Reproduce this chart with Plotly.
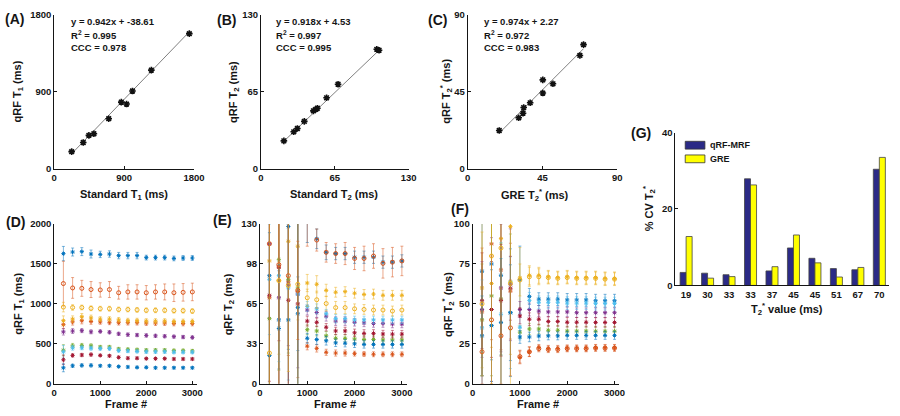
import plotly.graph_objects as go

W, H = 900, 416
FONT = "Liberation Sans, Arial, sans-serif"
INK = "#151515"

# ---------------- data ----------------
# (A) T1 agreement
A_STD = [225, 374, 447, 511, 702, 864, 932, 1008, 1251, 1740]
A_QRF = [198, 305, 389, 408, 584, 778, 755, 908, 1152, 1579]
A_FIT = [0.942, -38.61]
A_STATS = ["y = 0.942x + -38.61", "R<sup>2</sup> = 0.995", "CCC = 0.978"]
# (B) T2 agreement
B_STD = [20.2, 28.9, 32.1, 38.2, 46.2, 48.3, 49.7, 57.8, 67.9, 102.0, 104.0]
B_QRF = [23.4, 31.1, 33.9, 39.9, 48.8, 50.1, 51.0, 59.8, 71.3, 100.8, 100.0]
B_FIT = [0.918, 4.53]
B_STATS = ["y = 0.918x + 4.53", "R<sup>2</sup> = 0.997", "CCC = 0.995"]
# (C) T2* agreement
C_GRE = [19.0, 30.7, 33.3, 33.7, 37.6, 45.2, 45.2, 51.3, 67.5, 69.7]
C_QRF = [22.3, 29.7, 32.4, 35.7, 38.5, 44.2, 51.9, 49.6, 66.2, 72.5]
C_FIT = [0.974, 2.27]
C_STATS = ["y = 0.974x + 2.27", "R<sup>2</sup> = 0.972", "CCC = 0.983"]

# (D)-(F) convergence vs frame number
FRAMES = [200, 400, 600, 800, 1000, 1200, 1400, 1600, 1800, 2000, 2200, 2400, 2600, 2800, 3000]
SERIES_COLORS = ["#0072BD", "#D95319", "#EDB120", "#7E2F8E", "#77AC30",
                 "#4DBEEE", "#A2142F", "#0072BD", "#D95319", "#EDB120"]
SERIES_MARKERS = ["*", "*", "*", "*", "*", "*", "*", "*", "o", "o"]

D_MEAN = [
    [1630, 1650, 1655, 1625, 1620, 1625, 1605, 1605, 1605, 1580, 1580, 1580, 1570, 1575, 1575],
    [740, 775, 790, 780, 775, 770, 765, 765, 765, 760, 760, 760, 755, 755, 755],
    [790, 810, 840, 825, 810, 810, 800, 790, 790, 785, 785, 785, 780, 780, 780],
    [650, 660, 665, 650, 655, 645, 625, 615, 610, 605, 600, 595, 590, 585, 580],
    [420, 475, 480, 475, 460, 460, 435, 430, 425, 420, 420, 420, 415, 415, 410],
    [400, 450, 450, 445, 440, 440, 415, 410, 405, 400, 400, 400, 395, 395, 395],
    [300, 355, 360, 365, 355, 350, 330, 320, 320, 315, 315, 315, 310, 310, 310],
    [200, 225, 230, 230, 225, 225, 215, 210, 205, 205, 200, 200, 200, 200, 200],
    [1255, 1200, 1195, 1180, 1175, 1180, 1140, 1150, 1150, 1140, 1150, 1150, 1140, 1145, 1150],
    [960, 955, 955, 945, 940, 940, 930, 930, 925, 920, 920, 920, 915, 915, 910],
]
D_ERR = [
    [90, 50, 50, 50, 40, 40, 40, 40, 40, 30, 30, 30, 30, 30, 30],
    [50, 40, 40, 35, 30, 30, 30, 30, 30, 30, 30, 30, 30, 30, 30],
    [60, 40, 40, 35, 30, 30, 30, 30, 30, 30, 30, 30, 30, 30, 30],
    [40, 30, 25, 25, 20, 20, 20, 20, 20, 20, 20, 20, 20, 20, 20],
    [70, 30, 25, 25, 20, 20, 20, 20, 20, 20, 20, 20, 20, 20, 20],
    [80, 30, 25, 25, 20, 20, 20, 20, 20, 20, 20, 20, 20, 20, 20],
    [60, 20, 20, 20, 15, 15, 15, 15, 15, 15, 15, 15, 15, 15, 15],
    [50, 20, 20, 20, 15, 15, 15, 15, 15, 15, 15, 15, 15, 15, 15],
    [280, 130, 100, 100, 90, 100, 80, 90, 90, 90, 90, 100, 110, 110, 110],
    [60, 35, 30, 30, 30, 30, 30, 30, 30, 30, 30, 30, 30, 30, 30],
]

E_MEAN = [
    [88, 52, 128, 57, 135, 118, 107, 106, 106, 103, 103, 103, 99, 99, 100],
    [70, 95, 83, 75, 30.6, 28.8, 25.6, 25, 25, 24.5, 24.2, 24, 24, 24, 24],
    [100, 84, 116, 112, 82, 81, 76, 74.5, 75, 73.7, 72.7, 73, 72, 72, 72],
    [114, 70, 81, 73, 60, 58, 55, 51, 51, 50, 49.5, 49, 49, 48.6, 48.6],
    [53, 101, 85, 78, 44, 43, 39, 37, 37, 36.5, 36, 36, 35.7, 35.7, 35.7],
    [85, 88, 78, 73, 63, 61, 57, 53, 53, 52, 52, 52, 52, 52, 52],
    [72, 95, 68, 65, 51, 50, 46, 43, 43, 41.5, 41, 41, 40.5, 40.4, 40.4],
    [23, 45, 52, 62, 37, 36, 35, 33.3, 33, 32.5, 32, 32, 32, 32, 32],
    [114, 97, 88, 76, 134, 117, 107, 106, 106, 102, 102, 104, 98, 99, 100],
    [25, 84, 80, 81, 70, 68.4, 65.3, 62, 62, 61, 60.5, 60, 60, 59.2, 60],
]
E_ERR = [
    [120, 40, 100, 30, 20, 8, 6, 5, 5, 5, 5, 5, 5, 5, 5],
    [80, 120, 60, 70, 3, 3, 2.5, 2.5, 2.5, 2, 2, 2, 2, 2, 2],
    [150, 60, 130, 60, 7, 7, 5, 4, 4, 4, 4, 4, 4, 4, 4],
    [60, 110, 50, 60, 4, 4, 4, 3.5, 3.5, 3, 3, 3, 3, 3, 3],
    [110, 90, 60, 90, 4, 4, 3.5, 3, 3, 3, 3, 3, 3, 3, 3],
    [45, 70, 75, 110, 4, 4, 3.5, 3.5, 3.5, 3, 3, 3, 3, 3, 3],
    [70, 60, 100, 80, 4, 3.5, 3, 3, 3, 3, 3, 3, 3, 3, 3],
    [100, 52, 90, 70, 4, 4, 3.5, 3, 3, 3, 3, 3, 3, 3, 3],
    [160, 100, 120, 40, 22, 9, 8, 8, 9, 9, 10, 10, 12, 12, 12],
    [140, 85, 70, 100, 7, 7, 6, 5, 5, 4, 4, 4, 4, 4, 4],
]

F_MEAN = [
    [70.5, 75, 67.9, 44.5, 65.2, 54.7, 53, 53, 53, 52.5, 52.5, 52.5, 52, 52, 52],
    [45, 87.6, 71.3, 58, 16.5, 20.1, 22.6, 22, 22, 22.3, 22.3, 22.3, 22.6, 22.6, 22.6],
    [60, 62.8, 90.9, 98.4, 66.3, 67.9, 67.9, 67, 66.5, 67, 66.5, 66.5, 66.5, 66, 66],
    [46.5, 46.5, 60, 62, 46.5, 46.5, 45.5, 45, 45, 45, 44.5, 44.5, 44.5, 44.5, 44.5],
    [40, 55, 53, 63.8, 32.3, 34.3, 34.3, 33.5, 33.5, 33, 33, 33, 32.9, 32.9, 32.9],
    [35, 36.4, 43.5, 44.5, 35.4, 52.2, 51, 51, 51, 50.5, 50.5, 50.5, 50.2, 50.2, 50.2],
    [52, 46.5, 52.2, 59.8, 42.5, 40.4, 40.4, 39, 39, 38.5, 38.5, 38.5, 38.4, 38.4, 38.4],
    [30, 36.4, 38.4, 44.5, 29.3, 29.3, 29.9, 30, 30, 30.3, 30.3, 30.3, 30.3, 30.3, 30.3],
    [20, 40, 30, 35, 17, 20, 22, 21.5, 21.5, 22, 22, 22, 22.3, 22.3, 22.3],
    [50, 80, 85, 62.8, 65, 67, 67, 66.5, 66, 66.5, 66, 66, 66, 65.5, 65.5],
]
F_ERR = [
    [100, 60, 50, 40, 21, 5, 4, 4, 4, 4, 4, 4, 4, 4, 4],
    [40, 60, 50, 30, 4, 3, 2, 2, 2, 2, 2, 2, 2, 2, 2],
    [50, 40, 60, 80, 19, 6, 5, 4, 4, 4, 4, 4, 4, 4, 4],
    [30, 45, 40, 35, 5, 4, 3.5, 3, 3, 3, 3, 3, 3, 3, 3],
    [35, 50, 35, 30, 4, 3.5, 3, 3, 3, 3, 3, 3, 3, 3, 3],
    [30, 40, 45, 35, 8, 5, 4, 4, 4, 4, 4, 4, 4, 4, 4],
    [30, 30, 35, 20, 5, 4, 3.5, 3, 3, 3, 3, 3, 3, 3, 3],
    [25, 35, 40, 30, 4, 3, 3, 2.5, 2.5, 2.5, 2.5, 2.5, 2.5, 2.5, 2.5],
    [20, 40, 30, 30, 4, 3, 2, 2, 2, 2, 2, 2, 2, 2, 2],
    [45, 80, 90, 100, 10, 6, 5, 4, 4, 4, 4, 4, 4, 4, 4],
]

# (G) coefficient of variation
G_LABELS = ["19", "30", "33", "33", "37", "45", "45", "51", "67", "70"]
G_SERIES = ["qRF-MRF", "GRE"]
G_QRF = [3.4, 3.2, 2.8, 27.9, 3.8, 9.8, 7.1, 4.4, 4.1, 30.4]
G_GRE = [12.8, 1.9, 2.3, 26.3, 4.9, 13.2, 5.9, 2.2, 4.7, 33.5]
G_COLORS = ["#2B2A86", "#FFFF00"]

# ---------------- helpers ----------------
def px_x(x):
    return x / W


def px_y(y):
    return 1 - y / H


def rgba(hexc, a):
    h = hexc.lstrip("#")
    return "rgba(%d,%d,%d,%.2f)" % (int(h[0:2], 16), int(h[2:4], 16), int(h[4:6], 16), a)


def axis(dom_px, rng, tickvals, anchor, vertical=False, ticktext=None):
    if vertical:
        dom = [px_y(dom_px[1]), px_y(dom_px[0])]
    else:
        dom = [px_x(dom_px[0]), px_x(dom_px[1])]
    d = dict(domain=dom, range=rng, tickvals=tickvals, anchor=anchor,
             showline=True, linecolor=INK, linewidth=1, mirror=False,
             ticks="inside", ticklen=3, tickcolor=INK, showgrid=False, zeroline=False,
             tickfont=dict(family=FONT, size=9.5, color=INK, weight="bold"),
             fixedrange=True)
    if ticktext is not None:
        d["ticktext"] = ticktext
    return d


def ann(text, x, y, size, xanchor="center", angle=0):
    return dict(text=text, x=px_x(x), y=px_y(y), xref="paper", yref="paper",
                showarrow=False, xanchor=xanchor, yanchor="middle", textangle=angle,
                font=dict(family=FONT, size=size, color=INK, weight="bold"))


fig = go.Figure()

# ---------------- scatter panels A-C ----------------
scatter_sets = [
    (A_STD, A_QRF, A_FIT, "x", "y"),
    (B_STD, B_QRF, B_FIT, "x2", "y2"),
    (C_GRE, C_QRF, C_FIT, "x3", "y3"),
]
for xs, ys, fit, xa, ya in scatter_sets:
    lo, hi = min(xs), max(xs)
    fig.add_trace(go.Scatter(x=[lo, hi], y=[fit[0] * lo + fit[1], fit[0] * hi + fit[1]],
                             mode="lines", line=dict(color="#808080", width=1),
                             xaxis=xa, yaxis=ya, showlegend=False, hoverinfo="skip"))
    fig.add_trace(go.Scatter(x=xs, y=ys, mode="markers", xaxis=xa, yaxis=ya, showlegend=False,
                             marker=dict(symbol="asterisk-open", size=5.5, color="#111111",
                                         line=dict(color="#111111", width=1.6))))

# ---------------- convergence panels D-F ----------------
conv_sets = [(D_MEAN, D_ERR, "x4", "y4"), (E_MEAN, E_ERR, "x5", "y5"), (F_MEAN, F_ERR, "x6", "y6")]
for means, errs, xa, ya in conv_sets:
    for i in range(len(means)):
        col = SERIES_COLORS[i]
        sym = "circle-open" if SERIES_MARKERS[i] == "o" else "asterisk-open"
        fig.add_trace(go.Scatter(
            x=FRAMES, y=means[i], mode="markers", xaxis=xa, yaxis=ya, showlegend=False,
            marker=dict(symbol=sym, size=4 if sym == "circle-open" else 3.5,
                        color=col, line=dict(color=col, width=1.0)),
            error_y=dict(type="data", array=errs[i], visible=True,
                         color=rgba(col, 0.5), thickness=1, width=1.5)))

# ---------------- bar panel G ----------------
G_X = list(range(1, len(G_LABELS) + 1))
for name, vals, col in [(G_SERIES[0], G_QRF, G_COLORS[0]), (G_SERIES[1], G_GRE, G_COLORS[1])]:
    fig.add_trace(go.Bar(x=G_X, y=vals, name=name, xaxis="x7", yaxis="y7", showlegend=False,
                         marker=dict(color=col, line=dict(color="#444444", width=0.8))))

TOP = (9, 167)
BOT = (224, 388)
layout = dict(
    width=W, height=H, autosize=False,
    margin=dict(l=0, r=0, t=0, b=0),
    paper_bgcolor="white", plot_bgcolor="white",
    barmode="group", bargap=0.44, bargroupgap=0.0,
    showlegend=False,
    xaxis=axis((52, 194), [0, 1800], [0, 900, 1800], "y"),
    yaxis=axis(TOP, [0, 1800], [0, 900, 1800], "x", vertical=True),
    xaxis2=axis((262, 412), [0, 130], [0, 65, 130], "y2"),
    yaxis2=axis(TOP, [0, 130], [0, 65, 130], "x2", vertical=True),
    xaxis3=axis((472, 624), [0, 90], [0, 45, 90], "y3"),
    yaxis3=axis(TOP, [0, 90], [0, 45, 90], "x3", vertical=True),
    xaxis4=axis((52, 197), [0, 3100], [0, 1000, 2000, 3000], "y4"),
    yaxis4=axis(BOT, [0, 2000], [0, 500, 1000, 1500, 2000], "x4", vertical=True),
    xaxis5=axis((261, 410), [0, 3100], [0, 1000, 2000, 3000], "y5"),
    yaxis5=axis(BOT, [0, 130], [0, 32.5, 65, 97.5, 130], "x5", vertical=True,
                ticktext=["0", "33", "65", "98", "130"]),
    xaxis6=axis((477, 626), [0, 3100], [0, 1000, 2000, 3000], "y6"),
    yaxis6=axis(BOT, [0, 100], [0, 25, 50, 75, 100], "x6", vertical=True),
    xaxis7=axis((683, 900), [0.5, 10.45], G_X, "y7", ticktext=G_LABELS),
    yaxis7=axis((130, 287), [0, 40], [0, 20, 40], "x7", vertical=True),
)
layout["xaxis7"]["ticks"] = ""

# legend of panel G (patches + labels)
shapes = []
legend_rows = [(143, G_COLORS[0], G_SERIES[0]), (157, G_COLORS[1], G_SERIES[1])]
for yc, col, _ in legend_rows:
    shapes.append(dict(type="rect", xref="paper", yref="paper",
                       x0=px_x(693), x1=px_x(713), y0=px_y(yc + 4), y1=px_y(yc - 4),
                       fillcolor=col, line=dict(color="#333333", width=0.8)))
layout["shapes"] = shapes

T1 = "T<sub>1</sub>"
T2 = "T<sub>2</sub>"
T2S = "T<sub>2</sub><sup>*</sup>"
annotations = [
    # panel letters
    ann("(A)", 12, 13, 14), ann("(B)", 227, 14, 14), ann("(C)", 441, 14, 14),
    ann("(D)", 13, 222, 14), ann("(E)", 223, 220, 14), ann("(F)", 464, 209, 14),
    ann("(G)", 648, 130, 14),
    # axis titles
    ann("Standard " + T1 + " (ms)", 123, 194, 11),
    ann("qRF " + T1 + " (ms)", 15, 88, 11, angle=-90),
    ann("Standard " + T2 + " (ms)", 336, 194, 11),
    ann("qRF " + T2 + " (ms)", 234, 88, 11, angle=-90),
    ann("GRE " + T2S + " (ms)", 540, 194, 11),
    ann("qRF " + T2S + " (ms)", 450, 88, 11, angle=-90),
    ann("Frame #", 125, 409, 11),
    ann("qRF " + T1 + " (ms)", 16, 306, 11, angle=-90),
    ann("Frame #", 337, 409, 11),
    ann("qRF " + T2 + " (ms)", 229, 306, 11, angle=-90),
    ann("Frame #", 543, 409, 11),
    ann("qRF " + T2S + " (ms)", 452, 306, 11, angle=-90),
    ann(T2S + " value (ms)", 796, 311, 11),
    ann("% CV " + T2S, 656, 208, 11, angle=-90),
]
for yc, _, label in legend_rows:
    annotations.append(ann(label, 716, yc, 9, xanchor="left"))
for stats, x0 in [(A_STATS, 67), (B_STATS, 275), (C_STATS, 487)]:
    for k, line in enumerate(stats):
        annotations.append(ann(line, x0, 16 + 13.5 * k, 9.5, xanchor="left"))
layout["annotations"] = annotations

fig.update_layout(**layout)
fig.write_html("out.html", config={"displayModeBar": False},
               post_script="document.body.style.margin='0px';")
